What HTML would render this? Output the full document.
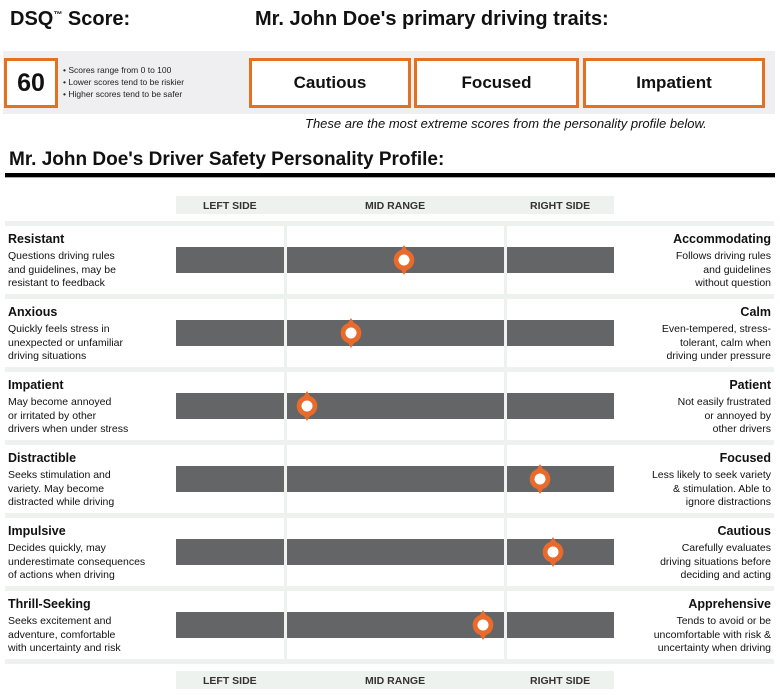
<!DOCTYPE html>
<html><head><meta charset="utf-8"><style>
body{margin:0;width:780px;height:695px;background:#fff;font-family:"Liberation Sans",Arial,sans-serif;position:relative;overflow:hidden;color:#111}
.a{position:absolute}
.box{position:absolute;border:3px solid #e3711f;background:#fff;box-sizing:border-box;font-weight:bold;font-size:17px;display:flex;align-items:center;justify-content:center}
.hdr{position:absolute;left:176px;width:438px;height:18px;background:#eef2ee;font-size:10.5px;font-weight:bold;color:#333}
.hdr span{position:absolute;top:4px}
.sep{position:absolute;left:5px;width:769px;height:5px;background:#eef2ee}
.tl{position:absolute;left:8px;font-size:12.5px;font-weight:bold}
.dl{position:absolute;left:8px;font-size:10.5px;line-height:13.5px}
.tr{position:absolute;right:9px;font-size:12.5px;font-weight:bold;text-align:right}
.dr{position:absolute;right:9px;font-size:10.5px;line-height:13.5px;text-align:right}
</style></head><body>
<div class="a" style="left:10px;top:8px;font-size:20px;font-weight:bold">DSQ<sup style="font-size:9px">™</sup> Score:</div>
<div class="a" style="left:255px;top:8px;font-size:20px;font-weight:bold">Mr. John Doe's primary driving traits:</div>
<div class="a" style="left:3px;top:51px;width:772px;height:63px;background:#efeff1"></div>
<div class="box" style="left:4px;top:58px;width:54px;height:50px;font-size:25px">60</div>
<div class="a" style="left:63px;top:64px;font-size:8.5px;line-height:12px;color:#222">• Scores range from 0 to 100<br>• Lower scores tend to be riskier<br>• Higher scores tend to be safer</div>
<div class="box" style="left:249px;top:58px;width:162px;height:50px">Cautious</div>
<div class="box" style="left:414px;top:58px;width:165px;height:50px">Focused</div>
<div class="box" style="left:583px;top:58px;width:182px;height:50px">Impatient</div>
<div class="a" style="left:305px;top:116px;font-size:13px;font-style:italic">These are the most extreme scores from the personality profile below.</div>
<div class="a" style="left:9px;top:149px;font-size:19px;font-weight:bold">Mr. John Doe's Driver Safety Personality Profile:</div>
<div class="a" style="left:5px;top:173px;width:770px;height:4px;background:#000"></div>
<div class="a" style="left:5px;top:177px;width:770px;height:1px;background:#aaa"></div>
<div class="hdr" style="top:196px"><span style="left:27px">LEFT SIDE</span><span style="left:189px">MID RANGE</span><span style="left:354px">RIGHT SIDE</span></div>
<div class="hdr" style="top:671px"><span style="left:27px">LEFT SIDE</span><span style="left:189px">MID RANGE</span><span style="left:354px">RIGHT SIDE</span></div>
<div id="rows"></div>
<script>
const leftTitles=["Resistant","Anxious","Impatient","Distractible","Impulsive","Thrill-Seeking"];
const leftDesc=["Questions driving rules<br>and guidelines, may be<br>resistant to feedback","Quickly feels stress in<br>unexpected or unfamiliar<br>driving situations","May become annoyed<br>or irritated by other<br>drivers  when under stress","Seeks stimulation and<br>variety. May become<br>distracted while driving","Decides quickly, may<br>underestimate consequences<br>of actions when driving","Seeks excitement and<br>adventure, comfortable<br>with uncertainty and risk"];
const rightTitles=["Accommodating","Calm","Patient","Focused","Cautious","Apprehensive"];
const rightDesc=["Follows driving rules<br>and guidelines<br>without question","Even-tempered, stress-<br>tolerant, calm when<br>driving under pressure","Not easily frustrated<br>or annoyed by<br>other drivers","Less likely to seek variety<br>&amp; stimulation. Able to<br>ignore distractions","Carefully evaluates<br>driving  situations before<br>deciding and acting","Tends to avoid or be<br>uncomfortable with risk &amp;<br>uncertainty when driving"];
const scores=[52,40,30,83,86,70];
const X0=176,X1=614;
const xs=v=>X0+(X1-X0)*v/100;
const root=document.getElementById('rows');
let html='';
for(let i=0;i<scores.length;i++){
  const top=221+73*i;
  html+=`<div class="sep" style="top:${top}px"></div>`;
  html+=`<div class="tl" style="top:${top+11}px">${leftTitles[i]}</div>`;
  html+=`<div class="dl" style="top:${top+29}px">${leftDesc[i]}</div>`;
  html+=`<div class="tr" style="top:${top+11}px">${rightTitles[i]}</div>`;
  html+=`<div class="dr" style="top:${top+29}px">${rightDesc[i]}</div>`;
  html+=`<div class="a" style="left:${X0}px;top:${top+26}px;width:${X1-X0}px;height:26px;background:#646567"></div>`;
  const cx=xs(scores[i]),cy=top+39;
  html+=`<svg class="a" style="left:${cx-12}px;top:${cy-16}px" width="24" height="32"><path d="M12 1 L15 6 A10.5 10.5 0 0 1 15 26 L12 31 L9 26 A10.5 10.5 0 0 1 9 6 Z" fill="#ea6a2c"/><circle cx="12" cy="16" r="5.5" fill="#fff"/></svg>`;
}
html+=`<div class="sep" style="top:${221+73*6}px"></div>`;
root.innerHTML=html;
for(const x of [284,504]){
  const d=document.createElement('div');
  d.className='a';
  
  
  d.style.cssText=`left:${x}px;top:221px;width:3px;height:443px;background:#eef2ee`;
  root.appendChild(d);
}
</script>
</body></html>
